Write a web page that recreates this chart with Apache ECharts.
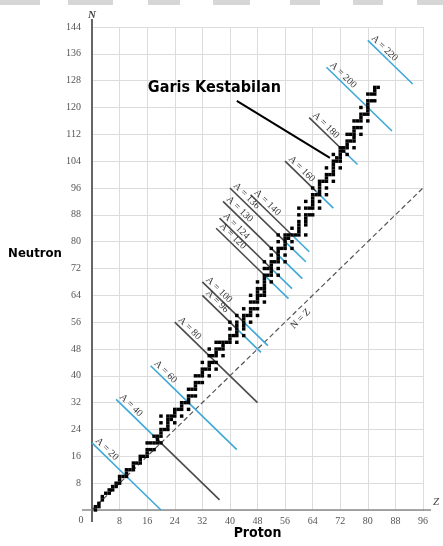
<!DOCTYPE html>
<html>
<head>
<meta charset="utf-8">
<script src="https://cdn.jsdelivr.net/npm/echarts@6.0.0/dist/echarts.min.js"></script>
<style>
  html, body { margin: 0; padding: 0; background: #fff; }
  #chart { width: 443px; height: 546px; }
</style>
</head>
<body>
<div id="chart"></div>
<script>
// Stable nuclides: proton number Z and the neutron numbers N of its stable isotopes
const protonNumbers = [
  1, 2, 3, 4, 5, 6, 7, 8, 9, 10, 11, 12, 13, 14, 15, 16, 17, 18, 19, 20,
  21, 22, 23, 24, 25, 26, 27, 28, 29, 30, 31, 32, 33, 34, 35, 36, 37, 38, 39, 40,
  41, 42, 44, 45, 46, 47, 48, 49, 50, 51, 52, 53, 54, 55, 56, 57, 58, 59, 60,
  62, 63, 64, 65, 66, 67, 68, 69, 70, 71, 72, 73, 74, 75, 76, 77, 78, 79, 80,
  81, 82, 83
];
const neutronNumbers = [
  [0, 1], [1, 2], [3, 4], [5], [5, 6], [6, 7], [7, 8], [8, 9, 10], [10], [10, 11, 12],
  [12], [12, 13, 14], [14], [14, 15, 16], [16], [16, 17, 18, 20], [18, 20], [18, 20, 22], [20, 21, 22], [20, 22, 23, 24, 26, 28],
  [24], [24, 25, 26, 27, 28], [27, 28], [26, 28, 29, 30], [30], [28, 30, 31, 32], [32], [30, 32, 33, 34, 36], [34, 36], [34, 36, 37, 38, 40],
  [38, 40], [38, 40, 41, 42, 44], [42], [40, 42, 43, 44, 46, 48], [44, 46], [42, 44, 46, 47, 48, 50], [48, 50], [46, 48, 49, 50], [50], [50, 51, 52, 54, 56],
  [52], [50, 52, 53, 54, 55, 56, 58], [52, 54, 55, 56, 57, 58, 60], [58], [56, 58, 59, 60, 62, 64], [60, 62], [58, 60, 62, 63, 64, 65, 66, 68], [64, 66], [62, 64, 65, 66, 67, 68, 69, 70, 72, 74], [70, 72],
  [68, 70, 71, 72, 73, 74, 76, 78], [74], [70, 72, 74, 75, 76, 77, 78, 80, 82], [78], [74, 76, 78, 79, 80, 81, 82], [81, 82], [78, 80, 82, 84], [82], [82, 83, 84, 85, 86, 88, 90],
  [82, 85, 86, 87, 88, 90, 92], [88, 90], [88, 90, 91, 92, 93, 94, 96], [94], [90, 92, 94, 95, 96, 97, 98], [98], [94, 96, 98, 99, 100, 102], [100], [98, 100, 101, 102, 103, 104, 106], [104, 105],
  [102, 104, 105, 106, 107, 108], [107, 108], [106, 108, 109, 110, 112], [110, 112], [108, 110, 111, 112, 113, 114, 116], [114, 116], [112, 114, 116, 117, 118, 120], [118], [116, 118, 119, 120, 121, 122, 124],
  [122, 124], [122, 124, 125, 126], [126]
];

// Lines of constant mass number A (N = A - Z), drawn between these proton numbers
const isobarMass   = [20, 40, 60, 80, 96, 100, 120, 124, 130, 136, 140, 160, 180, 200, 220];
const isobarZStart = [0, 7, 17, 24, 32, 32, 36, 37, 38, 40, 46, 56, 63, 68, 80];
const isobarZCross = [10, 19, 27, 35, 42, 44, 50, 52, 54, 56, 58, 65, 72, 80, 86];
const isobarZEnd   = [20, 37, 42, 48, 49, 51, 57, 58, 61, 62, 63, 70, 77, 87, 93];

// Axis ranges and ticks
const zTicks = [0, 8, 16, 24, 32, 40, 48, 56, 64, 72, 80, 88, 96];
const nTicks = [0, 8, 16, 24, 32, 40, 48, 56, 64, 72, 80, 88, 96, 104, 112, 120, 128, 136, 144];

// Annotation anchors (Z, N)
const stabilityLabelAt = [35.5, 125.8];
const stabilityPointer = [[42, 122], [69, 105]];
const diagonalLabelAt = [60.5, 57];
const neutronTitleAt = 76.5;

const BLUE = '#3da8d8';
const DARK = '#4a4a4a';
const upperDark = new Set([80, 96, 100, 120, 124, 130, 136, 140, 160, 180]);
const lowerDark = new Set([40, 80]);

const nuclides = [];
protonNumbers.forEach((z, i) => {
  neutronNumbers[i].forEach(n => nuclides.push([z, n]));
});

const isobarSegments = [];
isobarMass.forEach((a, i) => {
  const z0 = isobarZStart[i], z1 = isobarZCross[i], z2 = isobarZEnd[i];
  isobarSegments.push([
    {
      coord: [z0, a - z0],
      lineStyle: { color: upperDark.has(a) ? DARK : BLUE },
      label: {
        show: true,
        formatter: 'A = ' + a,
        position: 'insideStartTop',
        distance: 1,
        color: '#333',
        fontFamily: '"Liberation Serif", serif',
        fontSize: 10
      }
    },
    { coord: [z1, a - z1] }
  ]);
  isobarSegments.push([
    { coord: [z1, a - z1], lineStyle: { color: lowerDark.has(a) ? DARK : BLUE }, label: { show: false } },
    { coord: [z2, a - z2] }
  ]);
});

const tickFont = {
  color: '#555',
  fontFamily: '"Liberation Serif", "DejaVu Serif", serif',
  fontSize: 10
};
const boldFont = '"DejaVu Sans Condensed", "Liberation Sans Narrow", sans-serif';

const chart = echarts.init(document.getElementById('chart'), null, { renderer: 'canvas' });

const option = {
  animation: false,
  backgroundColor: '#ffffff',
  grid: { left: 92, right: 20, top: 27, bottom: 36, containLabel: false },
  xAxis: {
    type: 'value',
    min: zTicks[0],
    max: zTicks[zTicks.length - 1],
    interval: zTicks[1] - zTicks[0],
    name: 'Z',
    nameLocation: 'end',
    nameGap: 10,
    nameTextStyle: { fontFamily: '"Liberation Serif", serif', fontStyle: 'italic', fontSize: 11, color: '#444', verticalAlign: 'bottom', padding: [0, 0, 2, 0] },
    axisLine: { show: true, lineStyle: { color: '#8a8a8a', width: 1.5 } },
    axisTick: { show: false },
    splitLine: { show: true, lineStyle: { color: '#dcdcdc', width: 1 } },
    axisLabel: {
      ...tickFont,
      margin: 6,
      formatter: v => (v === 0 ? '' : String(v))
    }
  },
  yAxis: {
    type: 'value',
    min: nTicks[0],
    max: nTicks[nTicks.length - 1],
    interval: nTicks[1] - nTicks[0],
    name: 'N',
    nameLocation: 'end',
    nameGap: 6,
    nameTextStyle: { fontFamily: '"Liberation Serif", serif', fontStyle: 'italic', fontWeight: 'bold', fontSize: 11, color: '#444' },
    axisLine: { show: true, lineStyle: { color: '#666', width: 2 } },
    axisTick: { show: false },
    splitLine: { show: true, lineStyle: { color: '#dcdcdc', width: 1 } },
    axisLabel: {
      ...tickFont,
      margin: 11,
      formatter: v => (v === 0 ? '' : String(v))
    }
  },
  series: [
    {
      name: 'isobars',
      type: 'line',
      data: [],
      silent: true,
      markLine: {
        silent: true,
        symbol: ['none', 'none'],
        lineStyle: { width: 1.6, type: 'solid' },
        data: isobarSegments
      },
      z: 2
    },
    {
      name: 'N = Z',
      type: 'line',
      data: [[zTicks[0], zTicks[0]], [zTicks[zTicks.length - 1], zTicks[zTicks.length - 1]]],
      symbol: 'none',
      lineStyle: { color: '#555', width: 1.2, type: [5, 3] },
      z: 2
    },
    {
      name: 'N = Z label',
      type: 'scatter',
      data: [diagonalLabelAt],
      symbolSize: 0,
      itemStyle: { opacity: 1 },
      label: {
        show: true,
        position: 'inside',
        formatter: 'N = Z',
        rotate: 45,
        color: '#333',
        fontFamily: '"Liberation Serif", serif',
        fontSize: 10
      },
      z: 3
    },
    {
      name: 'stable nuclides',
      type: 'scatter',
      data: nuclides,
      symbol: 'rect',
      symbolSize: [3.5, 3.4],
      itemStyle: { color: '#000', opacity: 1 },
      z: 5
    },
    {
      name: 'Garis Kestabilan',
      type: 'line',
      data: stabilityPointer,
      symbol: 'none',
      lineStyle: { color: '#000', width: 2 },
      z: 6
    },
    {
      name: 'Garis Kestabilan label',
      type: 'scatter',
      data: [stabilityLabelAt],
      symbolSize: 0,
      itemStyle: { opacity: 1 },
      label: {
        show: true,
        position: 'inside',
        formatter: 'Garis Kestabilan',
        color: '#000',
        fontFamily: boldFont,
        fontWeight: 'bold',
        fontSize: 16
      },
      z: 6
    }
  ]
};

chart.setOption(option);

// Axis extensions, origin label and side titles, placed from the axis scales
const pOrigin = chart.convertToPixel({ gridIndex: 0 }, [0, 0]);
const pTop = chart.convertToPixel({ gridIndex: 0 }, [0, nTicks[nTicks.length - 1]]);
const pRight = chart.convertToPixel({ gridIndex: 0 }, [zTicks[zTicks.length - 1], 0]);
const pMid = chart.convertToPixel({ gridIndex: 0 }, [zTicks[zTicks.length - 1] / 2, neutronTitleAt]);

const strip = [[0, 40], [68, 113], [148, 180], [213, 250], [290, 320], [353, 383], [417, 443]];

chart.setOption({
  graphic: [
    ...strip.map(s => ({
      type: 'rect', silent: true,
      shape: { x: s[0], y: 0, width: s[1] - s[0], height: 5 },
      style: { fill: '#d6d6d6' }
    })),
    { type: 'line', silent: true, z: 10, shape: { x1: pOrigin[0], y1: pTop[1] - 8, x2: pOrigin[0], y2: pTop[1] }, style: { stroke: '#666', lineWidth: 2 } },
    { type: 'line', silent: true, z: 10, shape: { x1: pOrigin[0], y1: pOrigin[1], x2: pOrigin[0], y2: pOrigin[1] + 12 }, style: { stroke: '#666', lineWidth: 2 } },
    { type: 'line', silent: true, z: 10, shape: { x1: pOrigin[0] - 10, y1: pOrigin[1], x2: pOrigin[0], y2: pOrigin[1] }, style: { stroke: '#8a8a8a', lineWidth: 1.5 } },
    { type: 'line', silent: true, z: 10, shape: { x1: pRight[0], y1: pOrigin[1], x2: pRight[0] + 8, y2: pOrigin[1] }, style: { stroke: '#8a8a8a', lineWidth: 1.5 } },
    {
      type: 'text', silent: true, z: 10,
      x: pOrigin[0] - 11, y: pOrigin[1] + 10,
      style: { text: '0', fill: '#555', font: '10px "Liberation Serif", serif', align: 'center', verticalAlign: 'middle' }
    },
    {
      type: 'text', silent: true, z: 10,
      x: 35, y: pMid[1],
      style: { text: 'Neutron', fill: '#000', font: 'bold 13px ' + boldFont, align: 'center', verticalAlign: 'middle' }
    },
    {
      type: 'text', silent: true, z: 10,
      x: pMid[0], y: pOrigin[1] + 23,
      style: { text: 'Proton', fill: '#000', font: 'bold 14px ' + boldFont, align: 'center', verticalAlign: 'middle' }
    }
  ]
});
</script>
</body>
</html>
